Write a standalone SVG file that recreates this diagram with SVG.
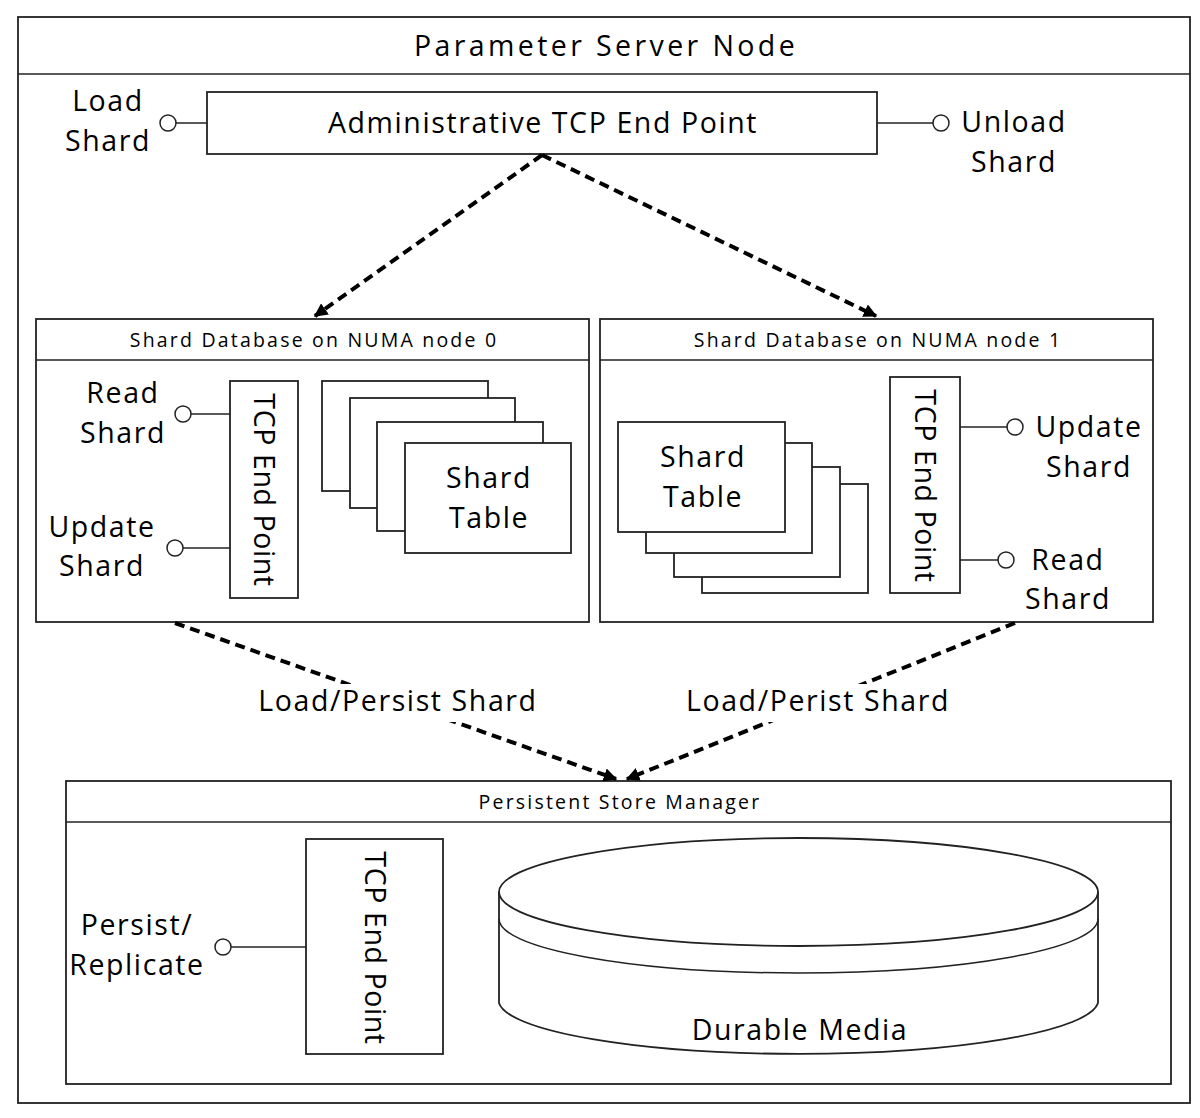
<svg xmlns="http://www.w3.org/2000/svg" width="1200" height="1118" viewBox="0 0 1200 1118">
<defs>
<style>
.box{fill:#fff;stroke:#222;stroke-width:1.8}
.ln{stroke:#222;stroke-width:1.5;fill:none}
.port{fill:#fff;stroke:#222;stroke-width:1.5}
.dash{stroke:#000;stroke-width:4;stroke-dasharray:10 6;fill:none}
.t{font-family:"Open Sans","Noto Sans","Liberation Sans",sans-serif;fill:#000;text-anchor:middle}
.big{font-size:28.5px;letter-spacing:1.6px}
.vert{font-size:28.5px;letter-spacing:0.6px}
.title{font-size:28.5px;letter-spacing:3.4px}
.small{font-size:19.5px;letter-spacing:2.2px}
.lbl{fill:#fff;stroke:none}
</style>
<marker id="ah" viewBox="0 0 10 10" refX="9" refY="5" markerWidth="3.4" markerHeight="3.4" orient="auto" markerUnits="strokeWidth">
<path d="M0,0 L10,5 L0,10 z" fill="#000"/>
</marker>
</defs>
<rect width="1200" height="1118" fill="#fff"/>

<g id="server">
<rect class="box" x="18" y="17" width="1172" height="1086"/>
<line class="ln" x1="18" y1="74" x2="1190" y2="74"/>
<text class="t title" x="606" y="56">Parameter Server Node</text>
</g>

<g id="admin">
<rect class="box" x="207" y="92" width="670" height="62"/>
<text class="t big" x="543" y="133">Administrative TCP End Point</text>
<line class="ln" x1="176" y1="123" x2="207" y2="123"/>
<circle class="port" cx="168" cy="123" r="8"/>
<text class="t big" x="108" y="111">Load</text>
<text class="t big" x="108" y="151">Shard</text>
<line class="ln" x1="877" y1="123" x2="933" y2="123"/>
<circle class="port" cx="941" cy="123" r="8"/>
<text class="t big" x="1014" y="132">Unload</text>
<text class="t big" x="1014" y="172">Shard</text>
</g>

<g id="numa0">
<rect class="box" x="36" y="319" width="553" height="303"/>
<line class="ln" x1="36" y1="360" x2="589" y2="360"/>
<text class="t small" x="314" y="347">Shard Database on NUMA node 0</text>
<rect class="box" x="230" y="381" width="68" height="217"/>
<text class="t vert" transform="translate(254,490) rotate(90)">TCP End Point</text>
<line class="ln" x1="191" y1="414" x2="230" y2="414"/>
<circle class="port" cx="183" cy="414" r="8"/>
<text class="t big" x="123" y="403">Read</text>
<text class="t big" x="123" y="443">Shard</text>
<line class="ln" x1="183" y1="548" x2="230" y2="548"/>
<circle class="port" cx="175" cy="548" r="8"/>
<text class="t big" x="102" y="537">Update</text>
<text class="t big" x="102" y="576">Shard</text>
<rect class="box" x="322" y="381" width="166" height="110"/>
<rect class="box" x="350" y="398" width="165" height="110"/>
<rect class="box" x="377" y="422" width="166" height="109"/>
<rect class="box" x="405" y="443" width="166" height="110"/>
<text class="t big" x="489" y="488">Shard</text>
<text class="t big" x="489" y="528">Table</text>
</g>

<g id="numa1">
<rect class="box" x="600" y="319" width="553" height="303"/>
<line class="ln" x1="600" y1="360" x2="1153" y2="360"/>
<text class="t small" x="878" y="347">Shard Database on NUMA node 1</text>
<rect class="box" x="702" y="484" width="166" height="109"/>
<rect class="box" x="674" y="467" width="166" height="110"/>
<rect class="box" x="646" y="443" width="166" height="110"/>
<rect class="box" x="618" y="422" width="167" height="110"/>
<text class="t big" x="703" y="467">Shard</text>
<text class="t big" x="703" y="507">Table</text>
<rect class="box" x="890" y="377" width="70" height="216"/>
<text class="t vert" transform="translate(915,486) rotate(90)">TCP End Point</text>
<line class="ln" x1="960" y1="427" x2="1007" y2="427"/>
<circle class="port" cx="1015" cy="427" r="8"/>
<text class="t big" x="1089" y="437">Update</text>
<text class="t big" x="1089" y="477">Shard</text>
<line class="ln" x1="960" y1="560" x2="998" y2="560"/>
<circle class="port" cx="1006" cy="560" r="8"/>
<text class="t big" x="1068" y="570">Read</text>
<text class="t big" x="1068" y="609">Shard</text>
</g>

<g id="psm">
<rect class="box" x="66" y="781" width="1105" height="303"/>
<line class="ln" x1="66" y1="822" x2="1171" y2="822"/>
<text class="t small" x="620" y="809">Persistent Store Manager</text>
<rect class="box" x="306" y="839" width="137" height="215"/>
<text class="t vert" transform="translate(365,948) rotate(90)">TCP End Point</text>
<line class="ln" x1="231" y1="947" x2="306" y2="947"/>
<circle class="port" cx="223" cy="947" r="8"/>
<text class="t big" x="137" y="935">Persist/</text>
<text class="t big" x="137" y="975">Replicate</text>
</g>

<g id="durable">
<path class="box" d="M499,892 L499,1003 A300,54 0 0 0 1098,1003 L1098,892"/>
<ellipse class="box" cx="798.5" cy="892" rx="299.5" ry="54"/>
<path class="ln" d="M499,919 A299.5,54 0 0 0 1098,919"/>
<text class="t big" x="800" y="1040">Durable Media</text>
</g>

<g id="connectors">
<line class="dash" x1="542" y1="155" x2="315" y2="316" marker-end="url(#ah)"/>
<line class="dash" x1="542" y1="155" x2="876" y2="316" marker-end="url(#ah)"/>
<line class="dash" x1="175" y1="623" x2="616" y2="779" marker-end="url(#ah)"/>
<line class="dash" x1="1015" y1="623" x2="627" y2="779" marker-end="url(#ah)"/>
<rect class="lbl" x="252" y="684" width="290" height="38"/>
<text class="t big" x="398" y="711">Load/Persist Shard</text>
<rect class="lbl" x="678" y="684" width="278" height="38"/>
<text class="t big" x="818" y="711">Load/Perist Shard</text>
</g>
</svg>
